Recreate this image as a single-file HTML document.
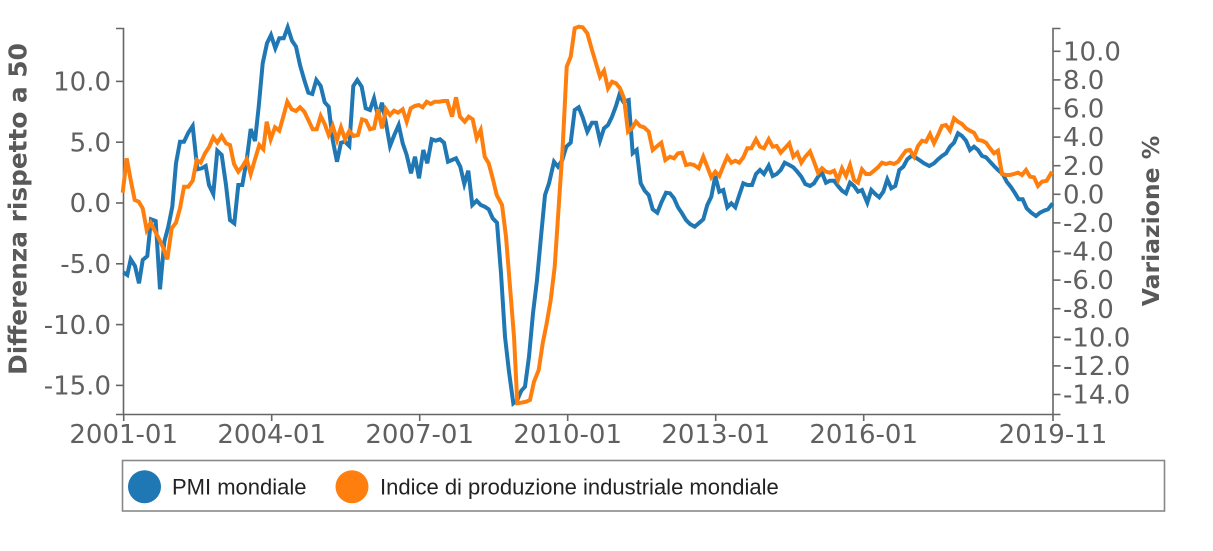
<!DOCTYPE html>
<html>
<head>
<meta charset="utf-8">
<style>
  html, body { margin:0; padding:0; background:#fff; }
  svg { display:block; }
  .tick { font-family: "DejaVu Sans", "Liberation Sans", sans-serif; font-size:26px; fill:#606060; }
  .albl { font-family: "DejaVu Sans", "Liberation Sans", sans-serif; font-size:23.5px; font-weight:bold; fill:#595959; }
  .albl2 { font-family: "DejaVu Sans", "Liberation Sans", sans-serif; font-size:24.8px; font-weight:bold; fill:#595959; }
  .leg { font-family: "Liberation Sans", "DejaVu Sans", sans-serif; font-size:22px; fill:#222; }
</style>
</head>
<body>
<svg width="1213" height="551" viewBox="0 0 1213 551" xmlns="http://www.w3.org/2000/svg">
  <rect x="0" y="0" width="1213" height="551" fill="#fff"/>

  <!-- Left axis -->
  <g stroke="#666" stroke-width="1.6" fill="none">
    <path d="M116,28.5 H123.5 V414.5 H116"/>
    <line x1="116" y1="81.4" x2="123.5" y2="81.4"/>
    <line x1="116" y1="142.2" x2="123.5" y2="142.2"/>
    <line x1="116" y1="203" x2="123.5" y2="203"/>
    <line x1="116" y1="263.8" x2="123.5" y2="263.8"/>
    <line x1="116" y1="324.6" x2="123.5" y2="324.6"/>
    <line x1="116" y1="385.4" x2="123.5" y2="385.4"/>
  </g>
  <g class="tick" text-anchor="end">
    <text x="111" y="90.5">10.0</text>
    <text x="111" y="151.5">5.0</text>
    <text x="111" y="212">0.0</text>
    <text x="111" y="273">-5.0</text>
    <text x="111" y="334">-10.0</text>
    <text x="111" y="394.5">-15.0</text>
  </g>
  <text class="albl2" transform="translate(26.5,209) rotate(-90)" text-anchor="middle">Differenza rispetto a 50</text>

  <!-- Right axis -->
  <g stroke="#666" stroke-width="1.6" fill="none">
    <path d="M1060.5,28.5 H1053 V414.5 H1060.5"/>
    <line x1="1053" y1="51.3" x2="1060.5" y2="51.3"/>
    <line x1="1053" y1="79.9" x2="1060.5" y2="79.9"/>
    <line x1="1053" y1="108.5" x2="1060.5" y2="108.5"/>
    <line x1="1053" y1="137.1" x2="1060.5" y2="137.1"/>
    <line x1="1053" y1="165.7" x2="1060.5" y2="165.7"/>
    <line x1="1053" y1="194.3" x2="1060.5" y2="194.3"/>
    <line x1="1053" y1="222.9" x2="1060.5" y2="222.9"/>
    <line x1="1053" y1="251.5" x2="1060.5" y2="251.5"/>
    <line x1="1053" y1="280.1" x2="1060.5" y2="280.1"/>
    <line x1="1053" y1="308.7" x2="1060.5" y2="308.7"/>
    <line x1="1053" y1="337.3" x2="1060.5" y2="337.3"/>
    <line x1="1053" y1="365.9" x2="1060.5" y2="365.9"/>
    <line x1="1053" y1="394.5" x2="1060.5" y2="394.5"/>
  </g>
  <g class="tick" text-anchor="start">
    <text x="1063" y="60.5">10.0</text>
    <text x="1063" y="89">8.0</text>
    <text x="1063" y="117.5">6.0</text>
    <text x="1063" y="146">4.0</text>
    <text x="1063" y="175">2.0</text>
    <text x="1063" y="203.5">0.0</text>
    <text x="1063" y="232">-2.0</text>
    <text x="1063" y="260.5">-4.0</text>
    <text x="1063" y="289">-6.0</text>
    <text x="1063" y="318">-8.0</text>
    <text x="1063" y="346.5">-10.0</text>
    <text x="1063" y="375">-12.0</text>
    <text x="1063" y="403.5">-14.0</text>
  </g>
  <text class="albl" transform="translate(1159,221) rotate(-90)" text-anchor="middle">Variazione %</text>

  <!-- X axis -->
  <g stroke="#666" stroke-width="1.6" fill="none">
    <line x1="123.5" y1="414.5" x2="1053" y2="414.5"/>
    <line x1="123.7" y1="414.5" x2="123.7" y2="421"/>
    <line x1="271.7" y1="414.5" x2="271.7" y2="421"/>
    <line x1="419.7" y1="414.5" x2="419.7" y2="421"/>
    <line x1="567.7" y1="414.5" x2="567.7" y2="421"/>
    <line x1="715.7" y1="414.5" x2="715.7" y2="421"/>
    <line x1="863.7" y1="414.5" x2="863.7" y2="421"/>
    <line x1="1053" y1="414.5" x2="1053" y2="421"/>
  </g>
  <g class="tick" text-anchor="middle">
    <text x="123.7" y="443">2001-01</text>
    <text x="271.7" y="443">2004-01</text>
    <text x="419.7" y="443">2007-01</text>
    <text x="567.7" y="443">2010-01</text>
    <text x="715.7" y="443">2013-01</text>
    <text x="863.7" y="443">2016-01</text>
    <text x="1053" y="443">2019-11</text>
  </g>

  <!-- PMI mondiale (blue) -->
  <polyline fill="none" stroke="#1f77b4" stroke-width="4" points="
123.3,272.3 127.3,275 130.7,259.3 135,266 139,283.3 142.7,260 147.3,256 151,219.3 155.7,221 160,289.3 164.3,241.7 168.3,226.7 172.3,206.7 176,163.3 180,141.7 184,141.7 188.3,132.7 192.7,126 197.3,169.3 201.7,168.3 205.7,166 209,185 213.3,194 217.3,150.7 221.7,155 226,185 230,220 234.3,223.3 238.3,185 242.3,185 246.7,160 250.7,129 255,141 258.7,106.7 262.7,63.3 267,43.3 271,35 275.3,48.3 279.3,38.3 283.7,38.3 287.7,27.3 292,40.7 296,46.7 300,65 304.3,80 308.3,92.7 312.3,94 316.3,80 320.7,86 324.7,102.3 328.7,106.7 332.7,140 337,161.7 341,142.7 345,141.7 349.3,146 353.3,86 357.3,80
361.7,86.7 365.7,108.3 370,110 374,98.3 378,116.7 382,102.7 386,123.3 390,146 394.3,135 398.7,125 402.7,143.3 406.7,155 411,173.3 415,156.7 419,178.3 423.3,150 427.3,163.3 431.7,139.3 435.7,140.7 440,139.3 444,142.7 448,161.7 452,160 456,158.3 460.3,166.7 464.3,184 468.3,170.7 472.3,205 476.7,200.7 480.7,205 484.7,206.7 488.7,209.3 492.7,218.3 497,222.7 501,273.3 505,336.7 509,371.7 513.3,403.3 517.3,400 521.3,390.7 525,386.7 529,356.7 533,313.3 537,280 541,236.7 545,195 549,183.3 554,161.7 558,166.7 562.3,160 566.3,146.7 570.7,142.7 574.7,110 578.7,107.3 582.7,117.3 587.3,131.7
592,122.7 596,122.7 600,140.7 604,128.3 608,125 612,116.7 616,106 619.3,95 623.3,101.7 628.7,100 632.7,153.3 636.7,150 640.7,183.3 644.7,190.7 648.7,195 652.7,209.3 657.3,212.7 661.3,202.7 666,192.7 670,193.3 674,198.3 678,207.3 682,213.3 686,220 690,224 694.7,226.7 698.7,223.3 703.3,219.3 707.3,205 711.3,196.7 715.3,176 719.3,191.7 723.3,190 727.3,207.3 731.3,203.3 735.3,207.3 739.3,195 743.3,183.3 747.3,185 752,185 756,174 760,170 764,174 768.7,165.7 772.7,176 776.7,174 780.7,170 784.7,162.7 789.3,165 793.3,167.3 797.3,171.7 801.3,176.7 805.3,184
810,186 814,183.3 818,176.7 822,172.7 826,182.7 830,180.7 834,180.7 838,186 842,190.7 846,193.3 850,182.7 854,186 858,191.7 862,190 867.3,202.7 871.3,190 875.3,194 879.3,197.3 883.3,191.7 887.3,179.3 891.3,188.3 895.3,186 899.3,170 903.3,166.7 907.3,159.3 911.3,156 915.3,157.3 919.3,160 924,163.3 929.3,166 934,163.3 938,159.3 942,156 946,153.3 950,146.7 954,142.7 958,133.3 962,136 966,140.7 970,150 974,146.7 978,150 982,156 986,157.3 990,161.7 994,166 998,170 1002.7,174 1006.7,181.7 1010.7,186.7 1014.7,192.7 1018.7,199.3 1022.7,199.3 1026.7,208.3 1031.3,212.7 1036,216 1040,212.7 1044,210.7 1048,209.3 1052.7,203.3"/>

  <!-- Indice di produzione industriale (orange) -->
  <polyline fill="none" stroke="#ff7f0e" stroke-width="4" points="
122.7,192.7 126.7,158.3 130.7,180 134.7,200 138.7,201.7 142.7,208.3 146.7,230 150.7,222.7 154.7,230.7 158.7,238.3 162.7,246.7 167.3,259.3 171.7,228.3 176,222.7 180,208.3 184,186.7 188.3,186.7 192.7,180.7 196.7,160 200.7,162.7 205,153.3 209.3,146.7 213.3,137.3 217.3,142.7 221.7,136 226,143.3 230,145 234,164 238.3,171.7 242.3,166.7 246.7,159.3 250.7,174 255,159.3 259.3,145 263.3,149.3 266.7,121.7 270.7,139.3 275,127.3 279.3,130.7 283.3,116.7 287.3,101.7 291.7,109.3 296,111 300,107.3 304.3,111.7 308.3,120 312.7,129.3 316.7,129.3 320.7,116 324.7,124 328.7,135 332.7,126 337,140 341,127.3 345,139.3 349.3,131 353.5,136 358,135 362,119.3 366,120.7 370,129.3 374,128.3 378,109.3 382,128.3 386,109.3 390,115 394,110.7 398,112.7 402.7,109.3 406.7,121.7 410.7,108.3 414.7,106 418.7,105 422.7,107.3 426.7,101.7 430.7,104 434.7,101.7 439.3,101.7 443.3,101 447.3,101 452,116.7 456,97.3 460,116.7 464.7,121.7 468.7,116.7 472.7,119.3 476.7,138.3 480.7,130 484.7,156.7 488.7,163.3 492.7,178.3 496.7,195 502,205 506,236.7 510,286.7 514,336.7 517.3,403.3 521.3,402.7 526,401.7 530,400 534,381.7 538.7,370 542.7,343.3 546.7,323.3 550.7,300 554.7,266.7 558.7,206.7 562.7,146.7 566.7,66.7 570.7,56.7 574.7,28.3 578.7,26.7 582.7,27.3 587.3,33.3
592,50 596,63.3 600,76.7 604,70.7 608,88.3 612,81.7 616,83.3 620,88.3 624,98.3 628,131.7 632,128.3 636,121.7 640,126 644,127.3 648.7,131.7 652.7,150 657.3,146 661.3,142.7 665.3,160 670,156.7 674,158.3 678,153.3 682,152.7 686,165 690,164 694,165 698.7,168.3 703.3,156.7 707.3,166.7 711.3,177.3 715.3,171.7 719.3,176 723.3,166 727.3,156.7 731.3,162.7 735.3,160.7 739.3,162.7 743.3,157.3 747.3,148.3 751.3,148.3 756,139.3 760,146.7 764,148.3 768.7,139.3 772.7,146.7 776.7,146 780.7,152.7 784.7,148.3 789.3,143.3 793.3,156.7 797.3,152.7 801.3,162.7 805.3,156.7 810,151.5 814,161.7 818,172.7
822,168.3 826,171.7 830,172.7 834,170.7 838,180 842,168.3 846,176 850,165 854,180 858,182.7 862,169.3 866,174 870,174 874,170.7 878,167.3 882,162.7 886,164 890,162.7 894,164 898,161.7 902,156 906,150.7 910,150 914,156.7 918,146 922,140.7 926,141.7 930,134 934,143.3 938,135 942,126 946,125 950,130.7 954,118.3 958,121.7 962,124 966,128.3 970,130.7 974,132.7 978,140 982,140.7 986,142.7 990,148.3 994,153.3 998,150.7 1002,174 1006,175 1010,175 1014,174 1018,172.7 1022,175 1026,170 1030,176.7 1034,177.3 1038,186 1042,181.7 1046.7,180.7 1052,171.7"/>

  <!-- Legend -->
  <rect x="122.5" y="460.5" width="1042" height="50.5" fill="#fff" stroke="#888" stroke-width="1.6"/>
  <circle cx="144.5" cy="486.7" r="16.5" fill="#1f77b4"/>
  <text class="leg" x="172" y="494.5">PMI mondiale</text>
  <circle cx="352" cy="486.7" r="16.5" fill="#ff7f0e"/>
  <text class="leg" x="380" y="494.5">Indice di produzione industriale mondiale</text>
</svg>
</body>
</html>
